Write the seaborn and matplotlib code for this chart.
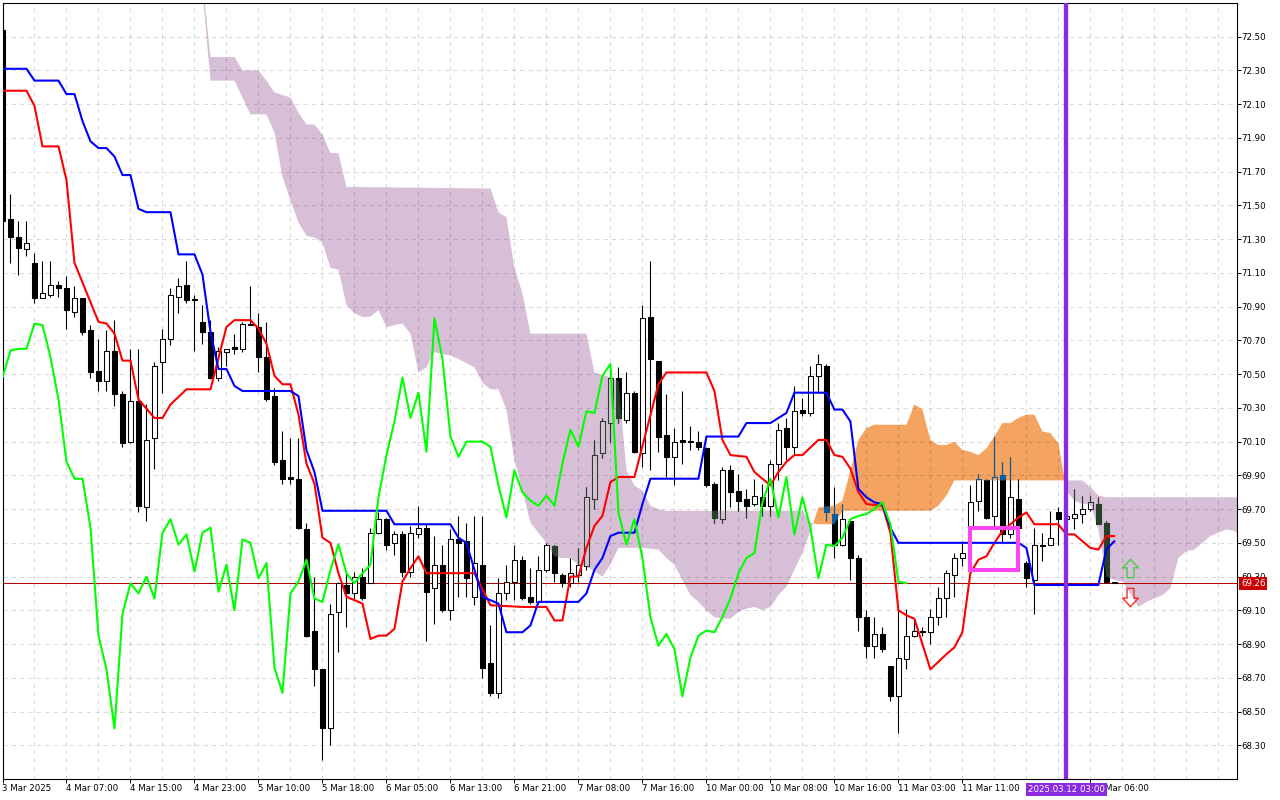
import numpy as np
import matplotlib
matplotlib.use("Agg")
import matplotlib.pyplot as plt
import matplotlib.transforms as mtransforms
from matplotlib.path import Path
from matplotlib.patches import Rectangle
import seaborn as sns

# ---------------- data (H1 candles, bar index 0..139) ----------------
opens = [72.54,71.42,71.31,71.24,71.16,70.95,70.97,71.03,71.01,70.87,
         70.95,70.76,70.52,70.46,70.64,70.38,70.10,70.34,69.71,70.12,
         70.57,70.71,70.96,71.03,70.94,70.81,70.75,70.48,70.63,70.66,
         70.65,70.80,70.78,70.60,70.37,69.99,69.89,69.88,69.58,68.98,
         68.75,68.40,69.09,69.25,69.20,69.30,69.26,69.56,69.64,69.50,
         69.55,69.33,69.55,69.59,69.23,69.37,69.10,69.52,69.51,69.18,
         69.37,68.79,68.61,69.20,69.27,69.40,69.18,69.15,69.34,69.48,
         69.31,69.26,69.31,69.36,69.76,70.03,70.21,70.48,70.23,70.39,
         70.03,70.84,70.58,70.14,70.01,70.11,70.10,70.10,70.06,69.85,
         69.64,69.93,69.81,69.76,69.73,69.77,69.72,69.97,70.18,70.07,
         70.29,70.27,70.49,70.55,69.67,69.49,69.63,69.41,69.06,68.89,
         68.96,68.77,68.59,68.81,68.95,68.98,68.97,69.06,69.17,69.31,
         69.41,69.60,69.75,69.87,69.66,69.90,69.55,69.76,69.38,69.28,
         69.49,69.49,69.68,69.64,69.65,69.67,69.70,69.73,69.62,69.27]
highs = [72.56,71.57,71.41,71.41,71.22,71.17,71.17,71.05,71.08,71.02,
         70.95,70.79,70.71,70.76,70.82,70.40,70.65,70.65,70.32,70.57,
         70.77,71.01,71.07,71.17,70.97,70.91,70.82,70.66,70.65,70.74,
         70.81,71.02,70.86,70.81,70.42,70.16,70.12,70.12,69.62,69.30,
         68.75,69.14,69.27,69.33,69.33,69.35,69.59,69.68,69.65,69.57,
         69.57,69.60,69.72,69.61,69.54,69.49,69.58,69.66,69.62,69.66,
         69.66,69.01,69.29,69.37,69.49,69.42,69.35,69.42,69.50,69.49,
         69.32,69.41,69.47,69.83,70.11,70.24,70.53,70.54,70.51,70.40,
         70.91,71.17,70.58,70.38,70.18,70.40,70.19,70.16,70.07,69.86,
         69.95,69.96,69.91,69.82,69.88,69.85,69.99,70.21,70.24,70.43,
         70.36,70.55,70.62,70.56,69.83,69.73,69.63,69.43,69.10,69.06,
         69.00,68.77,69.11,69.11,69.04,69.00,69.11,69.24,69.34,69.44,
         69.51,69.84,69.91,69.88,70.13,69.98,70.01,69.88,69.39,69.59,
         69.56,69.69,69.71,69.72,69.82,69.78,69.78,69.77,69.63,69.27]
lows = [71.40,71.16,71.09,71.20,70.92,70.95,70.96,70.96,70.77,70.84,
        70.73,70.48,70.40,70.40,70.31,70.07,70.09,69.68,69.63,69.94,
        70.39,70.67,70.86,70.92,70.64,70.68,70.47,70.46,70.55,70.62,
        70.63,70.79,70.51,70.34,69.96,69.85,69.85,69.58,68.94,68.65,
        68.21,68.30,68.85,69.00,69.16,69.16,69.26,69.55,69.46,69.43,
        69.30,69.30,69.53,68.92,69.02,69.09,69.04,69.18,69.18,69.13,
        68.70,68.59,68.58,69.16,69.16,69.16,69.14,69.14,69.33,69.27,
        69.24,69.24,69.27,69.34,69.70,70.00,70.10,70.21,70.21,70.03,
        69.95,69.93,70.04,69.89,69.84,69.97,70.05,70.05,69.83,69.62,
        69.62,69.71,69.69,69.65,69.72,69.66,69.66,69.87,69.99,70.02,
        70.25,70.25,70.39,69.63,69.41,69.48,69.28,68.98,68.82,68.82,
        68.85,68.56,68.37,68.75,68.94,68.95,68.90,69.01,69.06,69.18,
        69.36,69.46,69.69,69.64,69.60,69.50,69.53,69.58,69.24,69.08,
        69.39,69.49,69.49,69.60,69.58,69.62,69.69,69.61,69.26,69.26]
closes = [71.41,71.31,71.25,71.28,70.95,70.98,71.03,71.01,70.88,70.95,
          70.75,70.51,70.46,70.64,70.38,70.09,70.34,69.72,70.11,70.55,
          70.71,70.97,71.02,70.94,70.94,70.75,70.48,70.64,70.65,70.65,
          70.80,70.79,70.60,70.35,69.98,69.88,69.88,69.59,68.95,68.75,
          68.40,69.08,69.26,69.20,69.30,69.17,69.56,69.64,69.49,69.55,
          69.33,69.56,69.59,69.21,69.37,69.10,69.52,69.50,69.29,69.38,
          68.76,68.61,69.20,69.27,69.40,69.17,69.15,69.34,69.49,69.32,
          69.26,69.32,69.37,69.77,70.02,70.22,70.48,70.24,70.39,70.04,
          70.83,70.59,70.13,70.01,70.10,70.10,70.10,70.07,69.84,69.65,
          69.93,69.80,69.75,69.72,69.78,69.72,69.97,70.17,70.07,70.28,
          70.27,70.49,70.56,69.68,69.49,69.64,69.41,69.06,68.89,68.96,
          68.87,68.59,68.82,68.95,68.98,68.97,69.06,69.17,69.32,69.41,
          69.44,69.74,69.88,69.65,69.89,69.55,69.77,69.59,69.29,69.49,
          69.48,69.53,69.64,69.66,69.67,69.70,69.74,69.61,69.27,69.26]

# Tenkan-sen (red) vertices
tk_bars = [0,3,4,5,7,8,9,12,13,14,15,16,17,19,20,21,23,26,28,29,
           31,32,33,34,35,36,37,38,39,40,41,42,43,44,45,46,47,48,49,50,
           51,52,53,59,61,65,68,69,70,71,72,73,74,75,76,77,79,82,83,88,
           89,90,91,93,94,95,96,97,98,99,100,102,103,104,105,106,107,108,110,111,
           112,113,114,116,118,119,120,121,122,123,124,125,127,128,129,132,133,134,136,137,
           138,139]
tk_vals = [72.18,72.18,72.09,71.85,71.85,71.65,71.16,70.81,70.80,70.74,
           70.58,70.58,70.35,70.24,70.24,70.32,70.41,70.41,70.78,70.82,
           70.82,70.77,70.68,70.49,70.44,70.44,70.26,69.97,69.85,69.53,
           69.50,69.32,69.18,69.16,69.14,68.93,68.95,68.95,68.99,69.27,
           69.35,69.42,69.32,69.32,69.13,69.12,69.12,69.04,69.04,69.30,
           69.30,69.47,69.60,69.66,69.86,69.89,69.89,70.44,70.51,70.51,
           70.40,70.11,70.02,70.01,69.92,69.88,69.84,69.92,69.98,70.02,
           70.02,70.11,70.11,70.02,70.01,69.94,69.80,69.73,69.72,69.56,
           69.10,69.07,69.05,68.75,68.84,68.88,68.97,69.32,69.40,69.42,
           69.50,69.57,69.65,69.68,69.61,69.61,69.55,69.55,69.47,69.46,
           69.54,69.54]

# Kijun-sen (blue) vertices
kj_bars = [0,3,4,7,8,9,10,11,12,13,14,15,16,17,18,21,22,24,25,26,
           27,28,29,30,36,37,38,39,40,48,49,56,57,58,60,62,63,65,66,67,
           72,73,74,75,76,77,79,80,81,87,88,92,93,96,98,99,103,104,105,106,
           107,108,109,110,111,112,127,128,129,137,138,139]
kj_vals = [72.31,72.31,72.24,72.24,72.16,72.16,72.00,71.88,71.84,71.84,
           71.79,71.68,71.68,71.48,71.46,71.46,71.21,71.21,71.09,70.75,
           70.53,70.53,70.43,70.40,70.40,70.37,70.05,69.92,69.69,69.69,
           69.61,69.61,69.53,69.50,69.18,69.14,68.97,68.97,69.01,69.15,
           69.15,69.20,69.34,69.41,69.54,69.56,69.56,69.73,69.88,69.88,
           70.13,70.13,70.21,70.21,70.27,70.39,70.39,70.29,70.29,70.22,
           69.82,69.77,69.74,69.73,69.59,69.50,69.50,69.47,69.25,69.25,
           69.46,69.51]

chikou_shift = 26

# Kumo: bearish part 1 (thistle)
c1_top_bars = [25,26,29,30,32,33,34,36,37,38,39,40,41,42,43,61,62,63,64,65,
               66,73,74,76,77,78,79,80,81,82,83,100,101,101.33]
c1_top_vals = [72.83,72.38,72.38,72.30,72.30,72.24,72.17,72.14,72.05,71.98,
               71.98,71.92,71.81,71.81,71.61,71.60,71.46,71.43,71.13,70.98,
               70.74,70.74,70.51,70.48,70.46,69.93,69.84,69.81,69.72,69.70,
               69.69,69.69,69.62,69.615]
c1_bot_bars = [25,26,29,31,33,34,35,36,37,38,39,40,41,42,43,44,45,46,47,48,
               50,51,52,53,54,56,57,59,60,61,62,63,64,65,66,67,68,69,70,71,
               72,73,74,75,76,77,80,82,83,84,85,86,87,88,89,90,91,92,93,94,
               95,96,97,98,99,100,101,101.33]
c1_bot_vals = [72.77,72.24,72.24,72.04,72.04,71.93,71.67,71.53,71.40,71.32,
               71.31,71.28,71.13,71.12,70.91,70.86,70.84,70.84,70.88,70.78,
               70.80,70.74,70.51,70.54,70.63,70.61,70.59,70.54,70.45,70.41,
               70.41,70.29,69.99,69.81,69.62,69.56,69.50,69.42,69.41,69.41,
               69.37,69.36,69.33,69.30,69.37,69.47,69.47,69.46,69.41,69.37,
               69.28,69.19,69.15,69.10,69.06,69.05,69.05,69.09,69.11,69.12,
               69.10,69.12,69.19,69.24,69.34,69.44,69.57,69.615]
# Kumo: bullish part (sandy brown)
c2_top_bars = [101.33,102,104,105,106,107,108,109,113,114,115,116,117,118,119,120,121,122,123,124,
               125,126,127,128,129,130,131,132,132.79]
c2_top_vals = [69.615,69.71,69.72,69.75,69.93,70.11,70.18,70.20,70.20,70.32,
               70.29,70.11,70.08,70.08,70.10,70.05,70.04,70.02,70.06,70.13,
               70.21,70.21,70.24,70.26,70.26,70.16,70.15,70.09,69.87]
c2_bot_bars = [101.33,102,104,105,116,117,118,119,132,132.79]
c2_bot_vals = [69.615,69.61,69.61,69.69,69.69,69.72,69.78,69.87,69.87,69.87]
# Kumo: bearish part 2 (thistle, projected ahead)
c3_top_bars = [132.79,135,136,137,138,155]
c3_top_vals = [69.87,69.87,69.83,69.78,69.77,69.77]
c3_bot_bars = [132.79,133,134,135,136,137,138,139,140,141,142,143,144,145,146,147,148,149,150,151,
               152,153,154,155]
c3_bot_vals = [69.87,69.81,69.75,69.73,69.73,69.58,69.30,69.28,69.27,69.20,
               69.12,69.15,69.17,69.19,69.23,69.41,69.45,69.46,69.50,69.54,
               69.56,69.58,69.57,69.53]

xtick_bars = [0,8,16,24,32,40,48,56,64,72,80,88,96,104,112,120,136]
xtick_labels = ["3 Mar 2025","4 Mar 07:00","4 Mar 15:00","4 Mar 23:00","5 Mar 10:00",
                "5 Mar 18:00","6 Mar 05:00","6 Mar 13:00","6 Mar 21:00","7 Mar 08:00",
                "7 Mar 16:00","10 Mar 00:00","10 Mar 08:00","10 Mar 16:00","11 Mar 03:00",
                "11 Mar 11:00","Mar 06:00"]
ytick_vals = [72.50,72.30,72.10,71.90,71.70,71.50,71.30,71.10,70.90,70.70,70.50,
              70.30,70.10,69.90,69.70,69.50,69.30,69.10,68.90,68.70,68.50,68.30]

last_price = 69.26
vline_bar = 133
vline_label = "2025.03.12 03:00"
box_bars = [121, 127]
box_prices = [69.34, 69.59]
arrow_up_bar, arrow_up_price = [141], [69.35]
arrow_dn_bar, arrow_dn_price = [141], [69.18]

# ---------------- style ----------------
sns.set_theme(style="white")
plt.rcParams["font.family"] = ["DejaVu Sans"]

THISTLE = "#d8bfd8"
SANDY = "#f4a460"
INV_THISTLE = "#274027"
INV_SANDY = "#0b5b9f"

fig = plt.figure(figsize=(12.8, 8), dpi=100)
fig.patch.set_facecolor("white")
W, H = 1280.0, 800.0
L, R, T, B = 2.5, 1237.0, 3.0, 779.0
ax = fig.add_axes([L / W, 1 - B / H, (R - L) / W, (B - T) / H])
ax.set_facecolor("white")

# cloud
def cloud(tb, tv, bb, bv, color):
    xs = list(tb) + list(bb)[::-1]
    ys = list(tv) + list(bv)[::-1]
    return ax.fill(xs, ys, color=color, lw=0, zorder=1)[0]

p1 = cloud(c1_top_bars, c1_top_vals, c1_bot_bars, c1_bot_vals, THISTLE)
p2 = cloud(c2_top_bars, c2_top_vals, c2_bot_bars, c2_bot_vals, SANDY)
p3 = cloud(c3_top_bars, c3_top_vals, c3_bot_bars, c3_bot_vals, THISTLE)

# candles
def draw_candles(wick_c, bear_fc, bull_fc, edge_c, z, clip=None):
    o = np.array(opens); c = np.array(closes)
    h = np.array(highs); l = np.array(lows)
    x = np.arange(len(o))
    bull = c >= o
    bottoms = np.minimum(o, c)
    heights = np.maximum(np.abs(c - o), 0.004)
    wl = ax.vlines(x, l, h, colors=wick_c, linewidth=0.8, zorder=z)
    fcs = [bull_fc if b else bear_fc for b in bull]
    bc = ax.bar(x, heights, bottom=bottoms, width=0.58, color=fcs,
                edgecolor=edge_c, linewidth=0.75, zorder=z + 0.05)
    if clip is not None:
        wl.set_clip_path(clip)
        for r in bc.patches:
            r.set_clip_path(clip)

draw_candles("black", "black", "white", "black", 3)
draw_candles(INV_THISTLE, INV_THISTLE, THISTLE, INV_THISTLE, 3.2, clip=p1)
draw_candles(INV_SANDY, INV_SANDY, SANDY, INV_SANDY, 3.2, clip=p2)
draw_candles(INV_THISTLE, INV_THISTLE, THISTLE, INV_THISTLE, 3.2, clip=p3)

# last price line
ax.axhline(last_price, color="#b00000", lw=0.75, zorder=2.8)

# Ichimoku lines
bars = np.arange(len(closes))
sns.lineplot(x=tk_bars, y=tk_vals, ax=ax, color="#ff0000", linewidth=1.5,
             estimator=None, sort=False, zorder=4)
sns.lineplot(x=kj_bars, y=kj_vals, ax=ax, color="#0000ff", linewidth=1.5,
             estimator=None, sort=False, zorder=4)
sns.lineplot(x=bars[:-chikou_shift], y=np.array(closes)[chikou_shift:], ax=ax,
             color="#00ff00", linewidth=1.5, estimator=None, sort=False, zorder=4)

# magenta box
ax.add_patch(Rectangle((box_bars[0], box_prices[0]), box_bars[1] - box_bars[0],
                       box_prices[1] - box_prices[0], fill=False,
                       edgecolor="#ff44f4", lw=2.9, zorder=5))

# vertical marker line
ax.axvline(vline_bar, color="#8a2be2", lw=3.1, zorder=6)

# arrows
up_verts = [(0, 0.58), (0.5, 0.04), (0.22, 0.04), (0.22, -0.58),
            (-0.22, -0.58), (-0.22, 0.04), (-0.5, 0.04), (0, 0.58)]
codes = [Path.MOVETO] + [Path.LINETO] * 6 + [Path.CLOSEPOLY]
up_path = Path(up_verts, codes)
dn_path = Path([(vx, -vy) for vx, vy in up_verts], codes)
ax.plot(arrow_up_bar, arrow_up_price, ls="none", marker=up_path, ms=13.2,
        mfc="none", mec="#44cc44", mew=1.0, zorder=6)
ax.plot(arrow_dn_bar, arrow_dn_price, ls="none", marker=dn_path, ms=13.2,
        mfc="none", mec="#ff2a2a", mew=1.0, zorder=6)

# axes, ticks, grid
ax.set_xlim(0.02, 154.33)
ax.set_ylim(68.10, 72.70)
ax.set_xlabel("")
ax.set_ylabel("")
ax.set_xticks(xtick_bars)
ax.set_xticklabels(xtick_labels, ha="left")
ax.set_xticks(list(range(4, 155, 4)), minor=True)
ax.yaxis.tick_right()
ax.set_yticks(ytick_vals)
ax.set_yticklabels([f"{v:.2f}" for v in ytick_vals])
ax.tick_params(axis="x", which="major", bottom=True, length=2.9, width=0.7,
               pad=0.6, labelsize=6.2, colors="black", direction="out")
ax.tick_params(axis="x", which="minor", bottom=True, length=0)
ax.tick_params(axis="y", which="major", right=True, left=False, length=2.9,
               width=0.7, pad=0.4, labelsize=6.2, colors="black", direction="out")
ax.set_axisbelow(False)
gkw = dict(color="black", alpha=0.15, lw=0.75, ls=(0, (4, 4)))
ax.grid(True, which="major", axis="y", **gkw)
ax.grid(True, which="both", axis="x", **gkw)
for s in ax.spines.values():
    s.set_color("black")
    s.set_linewidth(0.8)
    s.set_visible(True)

# the last date label starts just right of the highlighted time label
last_lbl = ax.get_xticklabels()[-1]
last_lbl.set_transform(last_lbl.get_transform() +
                       mtransforms.ScaledTranslation(15 / 100.0, 0, fig.dpi_scale_trans))

# labels on the axes
ax.text(vline_bar, -0.0135, vline_label,
        transform=mtransforms.blended_transform_factory(ax.transData, ax.transAxes),
        ha="center", va="center", color="white", fontsize=6.2, zorder=10, clip_on=False,
        bbox=dict(boxstyle="square,pad=0.2", fc="#8a2be2", ec="none"))
ax.text(1.0 + 4.0 / (R - L), last_price, f"{last_price:.2f}",
        transform=mtransforms.blended_transform_factory(ax.transAxes, ax.transData),
        ha="left", va="center", color="white", fontsize=6.2, zorder=10, clip_on=False,
        bbox=dict(boxstyle="square,pad=0.2", fc="#cc0000", ec="none"))

fig.savefig("out.png", dpi=100)
